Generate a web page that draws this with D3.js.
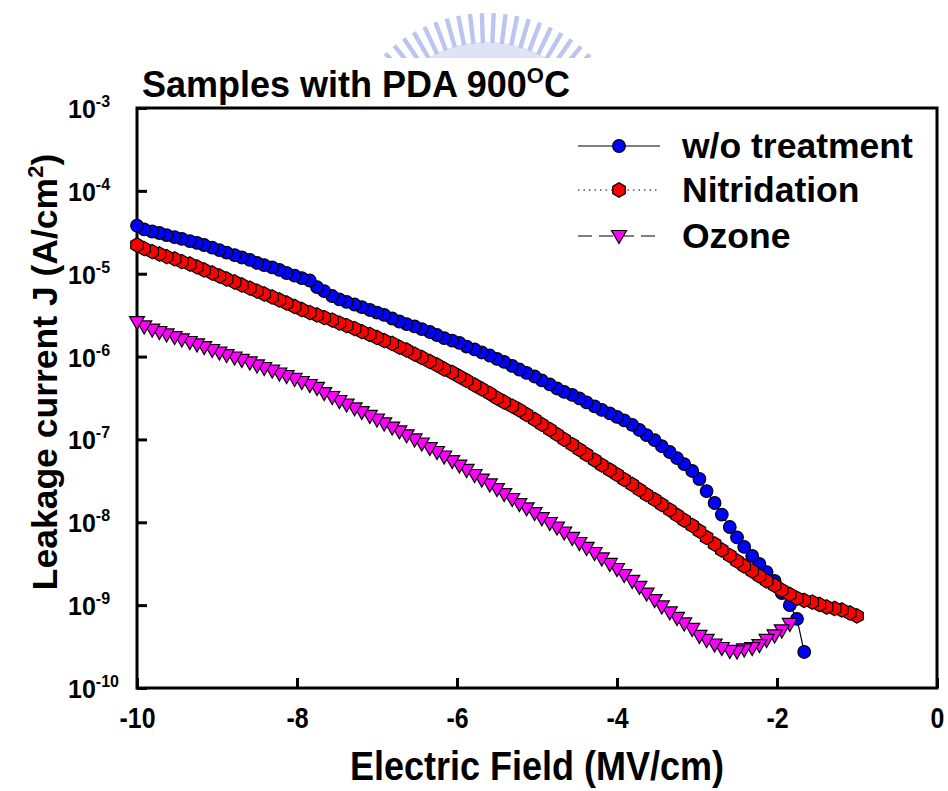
<!DOCTYPE html>
<html>
<head>
<meta charset="utf-8">
<script src="https://cdn.jsdelivr.net/npm/d3@7"></script>
<style>
  body { margin: 0; background: #fff; }
  svg text { font-family: "Liberation Sans", Arial, sans-serif; font-weight: bold; fill: #000; }
</style>
</head>
<body>
<div id="chart"></div>
<script>
// Leakage current vs electric field, three PDA 900C samples (log y)

// electric field sweep points (MV/cm)
const fieldMV = [
  -10.00, -9.91, -9.81, -9.72, -9.63, -9.53, -9.44, -9.34, -9.25, -9.16,
  -9.06, -8.97, -8.88, -8.78, -8.69, -8.59, -8.50, -8.41, -8.31, -8.22,
  -8.13, -8.03, -7.94, -7.84, -7.75, -7.66, -7.56, -7.47, -7.38, -7.28,
  -7.19, -7.09, -7.00, -6.91, -6.81, -6.72, -6.63, -6.53, -6.44, -6.34,
  -6.25, -6.16, -6.06, -5.97, -5.88, -5.78, -5.69, -5.59, -5.50, -5.41,
  -5.31, -5.22, -5.13, -5.03, -4.94, -4.84, -4.75, -4.66, -4.56, -4.47,
  -4.38, -4.28, -4.19, -4.09, -4.00, -3.91, -3.81, -3.72, -3.63, -3.53,
  -3.44, -3.34, -3.25, -3.16, -3.06, -2.97, -2.88, -2.78, -2.69, -2.59,
  -2.50, -2.41, -2.31, -2.22, -2.13, -2.03, -1.94, -1.84, -1.75, -1.66,
  -1.56, -1.47, -1.38, -1.28, -1.19, -1.09, -1.00
];

// J (A/cm2), w/o treatment
const jNone = [
  3.8e-5, 3.42e-5, 3.23e-5, 3.1e-5, 2.93e-5, 2.77e-5, 2.63e-5, 2.48e-5, 2.35e-5, 2.22e-5,
  2.07e-5, 1.93e-5, 1.8e-5, 1.68e-5, 1.57e-5, 1.47e-5, 1.35e-5, 1.27e-5, 1.19e-5, 1.11e-5,
  1.02e-5, 9.5e-6, 8.87e-6, 8.28e-6, 6.9e-6, 6.18e-6, 5.38e-6, 4.89e-6, 4.56e-6, 4.25e-6,
  3.96e-6, 3.65e-6, 3.4e-6, 3.18e-6, 2.88e-6, 2.65e-6, 2.47e-6, 2.31e-6, 2.15e-6, 1.98e-6,
  1.82e-6, 1.67e-6, 1.56e-6, 1.46e-6, 1.32e-6, 1.22e-6, 1.12e-6, 1.03e-6, 9.36e-7, 8.61e-7,
  7.71e-7, 6.98e-7, 6.34e-7, 5.75e-7, 5.15e-7, 4.61e-7, 4.12e-7, 3.74e-7, 3.44e-7, 3.13e-7,
  2.8e-7, 2.51e-7, 2.27e-7, 2.06e-7, 1.87e-7, 1.7e-7, 1.5e-7, 1.3e-7, 1.13e-7, 9.8e-8,
  8.3e-8, 7.05e-8, 5.96e-8, 5.04e-8, 4.16e-8, 3.33e-8, 2.38e-8, 1.71e-8, 1.24e-8, 8.77e-9,
  6.56e-9, 5.04e-9, 3.92e-9, 3.14e-9, 2.51e-9, 1.96e-9, 1.4e-9, 1.0e-9, 6.81e-10, 2.72e-10
];

// J (A/cm2), nitridation
const jNitridation = [
  2.22e-5, 2.01e-5, 1.85e-5, 1.73e-5, 1.61e-5, 1.51e-5, 1.4e-5, 1.31e-5, 1.21e-5, 1.11e-5,
  1.02e-5, 9.38e-6, 8.63e-6, 7.94e-6, 7.31e-6, 6.71e-6, 6.18e-6, 5.69e-6, 5.24e-6, 4.82e-6,
  4.43e-6, 4.02e-6, 3.7e-6, 3.4e-6, 3.18e-6, 2.96e-6, 2.76e-6, 2.54e-6, 2.37e-6, 2.18e-6,
  2.0e-6, 1.85e-6, 1.7e-6, 1.56e-6, 1.44e-6, 1.3e-6, 1.2e-6, 1.07e-6, 9.75e-7, 8.73e-7,
  7.92e-7, 7.08e-7, 6.43e-7, 5.75e-7, 5.15e-7, 4.54e-7, 4.06e-7, 3.59e-7, 3.16e-7, 2.83e-7,
  2.53e-7, 2.27e-7, 2.0e-7, 1.74e-7, 1.52e-7, 1.32e-7, 1.15e-7, 1.0e-7, 8.68e-8, 7.55e-8,
  6.58e-8, 5.64e-8, 4.91e-8, 4.28e-8, 3.77e-8, 3.28e-8, 2.86e-8, 2.48e-8, 2.16e-8, 1.88e-8,
  1.64e-8, 1.41e-8, 1.22e-8, 1.06e-8, 9.15e-9, 7.85e-9, 6.56e-9, 5.47e-9, 4.63e-9, 3.97e-9,
  3.41e-9, 2.97e-9, 2.58e-9, 2.25e-9, 1.96e-9, 1.73e-9, 1.52e-9, 1.35e-9, 1.21e-9, 1.14e-9,
  1.09e-9, 1.02e-9, 9.5e-10, 9.12e-10, 8.75e-10, 8.05e-10, 7.41e-10
];

// J (A/cm2), ozone
const jOzone = [
  2.61e-6, 2.31e-6, 2.12e-6, 1.98e-6, 1.85e-6, 1.72e-6, 1.61e-6, 1.5e-6, 1.4e-6, 1.3e-6,
  1.2e-6, 1.12e-6, 1.04e-6, 9.75e-7, 9.1e-7, 8.49e-7, 7.81e-7, 7.28e-7, 6.79e-7, 6.25e-7,
  5.83e-7, 5.37e-7, 4.93e-7, 4.54e-7, 4.18e-7, 3.62e-7, 3.25e-7, 2.91e-7, 2.64e-7, 2.37e-7,
  2.14e-7, 1.92e-7, 1.74e-7, 1.56e-7, 1.39e-7, 1.25e-7, 1.12e-7, 1.0e-7, 8.93e-8, 7.87e-8,
  7.05e-8, 6.22e-8, 5.48e-8, 4.84e-8, 4.28e-8, 3.72e-8, 3.28e-8, 2.86e-8, 2.52e-8, 2.19e-8,
  1.91e-8, 1.66e-8, 1.47e-8, 1.29e-8, 1.12e-8, 9.8e-9, 8.65e-9, 7.53e-9, 6.47e-9, 5.62e-9,
  4.9e-9, 4.26e-9, 3.66e-9, 3.14e-9, 2.73e-9, 2.31e-9, 1.96e-9, 1.66e-9, 1.38e-9, 1.15e-9,
  9.64e-10, 8.17e-10, 7.01e-10, 6.01e-10, 5.16e-10, 4.25e-10, 3.8e-10, 3.35e-10, 3.04e-10, 2.8e-10,
  2.76e-10, 2.92e-10, 3.04e-10, 3.3e-10, 3.8e-10, 4.31e-10, 4.95e-10, 5.93e-10
];

const seriesNames = ['w/o treatment', 'Nitridation', 'Ozone'];
const xTicks = [-10, -8, -6, -4, -2, 0];
const yExponents = [-3, -4, -5, -6, -7, -8, -9, -10];

const width = 948;
const height = 791;
const plot = { left: 137, right: 937, top: 108, bottom: 688 };

const svg = d3.select('#chart')
  .append('svg')
  .attr('width', width)
  .attr('height', height);

const x = d3.scaleLinear().domain([-10, 0]).range([plot.left, plot.right]);
const y = d3.scaleLog().domain([1e-10, 1e-3]).range([plot.bottom, plot.top]);

// marker shapes
function hexPath(r) {
  const pts = d3.range(6).map(i => {
    const a = Math.PI / 2 + i * Math.PI / 3;
    return [r * Math.cos(a), r * Math.sin(a)];
  });
  return 'M' + pts.map(p => p.join(',')).join('L') + 'Z';
}
const shapes = {
  circle: d3.symbol(d3.symbolCircle, Math.PI * 6.3 * 6.3)(),
  hex: hexPath(7.2),
  tri: 'M-7.5,-5.5L7.5,-5.5L0,7.5Z'
};

const styles = [
  { values: jNone, fill: '#0000ff', shape: shapes.circle, dash: null },
  { values: jNitridation, fill: '#ff0000', shape: shapes.hex, dash: '1.5,4' },
  { values: jOzone, fill: '#ff00ff', shape: shapes.tri, dash: '14,7' }
];

// watermark (faint logo arc at the top)
svg.append('clipPath').attr('id', 'wmclip')
  .append('rect').attr('x', 0).attr('y', 0).attr('width', width).attr('height', 58);
const wmg = svg.append('g')
  .attr('clip-path', 'url(#wmclip)')
  .append('g')
  .attr('transform', 'translate(487,161)')
  .attr('opacity', 0.6);
wmg.append('path')
  .attr('d', d3.arc().innerRadius(103).outerRadius(119).startAngle(-0.95).endAngle(0.95)())
  .attr('fill', '#c9d1f3');
d3.range(-48, 49, 4.6).forEach(a => {
  wmg.append('rect')
    .attr('x', -2.2).attr('y', -148).attr('width', 4.4).attr('height', 30)
    .attr('fill', '#8f9fe6')
    .attr('transform', `rotate(${a})`);
});

// frame
svg.append('rect')
  .attr('x', plot.left).attr('y', plot.top)
  .attr('width', plot.right - plot.left).attr('height', plot.bottom - plot.top)
  .attr('fill', 'none').attr('stroke', '#000').attr('stroke-width', 3);

// x axis, ticks pointing inward, condensed labels
const gx = svg.append('g')
  .attr('transform', `translate(0,${plot.bottom})`)
  .call(d3.axisBottom(x).tickValues(xTicks).tickSize(-10).tickSizeOuter(0).tickFormat(d => d));
gx.select('.domain').remove();
gx.selectAll('.tick line').attr('stroke', '#000').attr('stroke-width', 3);
gx.selectAll('.tick text')
  .attr('y', null).attr('dy', null)
  .attr('transform', 'translate(0,40) scale(0.83,1)')
  .attr('font-size', 30)
  .attr('fill', '#000')
  .style('font-weight', 'bold')
  .style('font-family', '"Liberation Sans", Arial, sans-serif');

// y axis, ticks pointing inward
const gy = svg.append('g')
  .attr('transform', `translate(${plot.left},0)`)
  .call(d3.axisLeft(y).tickValues(yExponents.map(e => Math.pow(10, e))).tickSize(-10).tickSizeOuter(0).tickFormat(''));
gy.select('.domain').remove();
gy.selectAll('.tick line').attr('stroke', '#000').attr('stroke-width', 3);

yExponents.forEach(e => {
  const t = svg.append('text')
    .attr('x', 68)
    .attr('y', y(Math.pow(10, e)) + 10);
  t.append('tspan').attr('font-size', 25).text('10');
  t.append('tspan').attr('font-size', 16).attr('dy', -11).text(e);
});

// series: line then markers (drawn from the right end back to -10)
styles.forEach(s => {
  const pts = s.values.map((v, i) => [fieldMV[i], v]);
  svg.append('path')
    .datum(pts)
    .attr('fill', 'none')
    .attr('stroke', '#000')
    .attr('stroke-width', 1.2)
    .attr('stroke-dasharray', s.dash)
    .attr('d', d3.line().x(d => x(d[0])).y(d => y(d[1])));
  svg.append('g')
    .selectAll('path')
    .data(pts.slice().reverse())
    .enter().append('path')
    .attr('d', s.shape)
    .attr('transform', d => `translate(${x(d[0])},${y(d[1])})`)
    .attr('fill', s.fill)
    .attr('stroke', '#000')
    .attr('stroke-width', 1.2);
});

// legend
const legendRows = [146, 190, 236];
styles.forEach((s, i) => {
  const ly = legendRows[i];
  svg.append('line')
    .attr('x1', 578).attr('x2', 660).attr('y1', ly).attr('y2', ly)
    .attr('stroke', '#000').attr('stroke-width', 1.2)
    .attr('stroke-dasharray', s.dash);
  svg.append('path')
    .attr('d', s.shape)
    .attr('transform', `translate(619,${ly})`)
    .attr('fill', s.fill).attr('stroke', '#000').attr('stroke-width', 1.2);
  svg.append('text')
    .attr('x', 682).attr('y', ly + 12)
    .attr('font-size', 35.5)
    .text(seriesNames[i]);
});

// title
const title = svg.append('text').attr('x', 142).attr('y', 97).attr('font-size', 36);
title.append('tspan').text('Samples with PDA 900');
title.append('tspan').attr('font-size', 22).attr('dy', -14).text('O');
title.append('tspan').attr('dy', 14).text('C');

// axis titles
svg.append('text')
  .attr('transform', `translate(${(plot.left + plot.right) / 2},780) scale(0.9,1)`)
  .attr('text-anchor', 'middle')
  .attr('font-size', 40)
  .text('Electric Field (MV/cm)');

const yt = svg.append('text')
  .attr('transform', `translate(57,372) rotate(-90)`)
  .attr('text-anchor', 'middle')
  .attr('font-size', 35.5);
yt.append('tspan').text('Leakage current J (A/cm');
yt.append('tspan').attr('font-size', 22).attr('dy', -14).text('2');
yt.append('tspan').attr('dy', 14).text(')');
</script>
</body>
</html>
